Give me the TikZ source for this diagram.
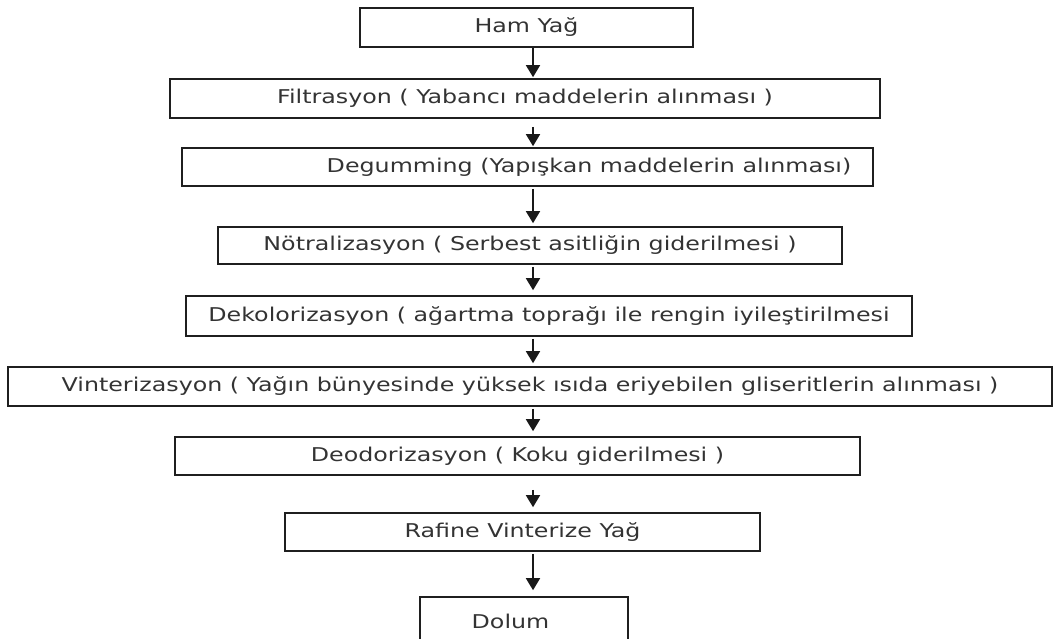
\documentclass[tikz,border=0pt]{standalone}
\usepackage{fontspec}
\setmainfont{DejaVu Sans}[FakeStretch=1.25]
\usetikzlibrary{arrows.meta,calc}
\begin{document}
\begin{tikzpicture}[x=1pt,y=-1pt,
  box/.style={draw=black!88,line width=1.6pt,inner sep=0pt,text=black!80,
    font=\fontsize{19}{22}\selectfont},
  flow/.style={draw=black!90,line width=1.5pt,-{Triangle[width=14pt,length=12pt]}}]
\useasboundingbox (0,0) rectangle (1054,639);
\coordinate (ax) at (533,0);
\node[box,minimum width=333pt,minimum height=39pt] (b1) at (526.5,27.5) {Ham Yağ};
\node[box,minimum width=710pt,minimum height=39pt] (b2) at (525,98.5) {Filtrasyon ( Yabancı maddelerin alınması )};
\node[box,minimum width=691pt,minimum height=38pt] (b3) at (527.5,167) {\hspace*{123pt}Degumming (Yapışkan maddelerin alınması)};
\node[box,minimum width=624pt,minimum height=37pt] (b4) at (530,245.5) {Nötralizasyon ( Serbest asitliğin giderilmesi )};
\node[box,minimum width=726pt,minimum height=40pt] (b5) at (549,316) {Dekolorizasyon ( ağartma toprağı ile rengin iyileştirilmesi};
\node[box,minimum width=1044pt,minimum height=39pt] (b6) at (530,386.5) {Vinterizasyon ( Yağın bünyesinde yüksek ısıda eriyebilen gliseritlerin alınması )};
\node[box,minimum width=685pt,minimum height=38pt] (b7) at (517.5,456) {Deodorizasyon ( Koku giderilmesi )};
\node[box,minimum width=475pt,minimum height=38pt] (b8) at (522.5,532) {Rafine Vinterize Yağ};
\node[box,minimum width=208pt,minimum height=48pt] (b9) at (524,621) {Dolum\hspace*{27pt}};
\draw[flow,shorten >=1pt] (b1.south -| ax) -- (b2.north -| ax);
\draw[flow,shorten <=8pt,shorten >=1pt] (b2.south -| ax) -- (b3.north -| ax);
\draw[flow,shorten <=2pt,shorten >=3pt] (b3.south -| ax) -- (b4.north -| ax);
\draw[flow,shorten <=2pt,shorten >=5pt] (b4.south -| ax) -- (b5.north -| ax);
\draw[flow,shorten <=2pt,shorten >=3pt] (b5.south -| ax) -- (b6.north -| ax);
\draw[flow,shorten <=2pt,shorten >=5pt] (b6.south -| ax) -- (b7.north -| ax);
\draw[flow,shorten <=14pt,shorten >=5pt] (b7.south -| ax) -- (b8.north -| ax);
\draw[flow,shorten <=2pt,shorten >=6pt] (b8.south -| ax) -- (b9.north -| ax);
\end{tikzpicture}
\end{document}
